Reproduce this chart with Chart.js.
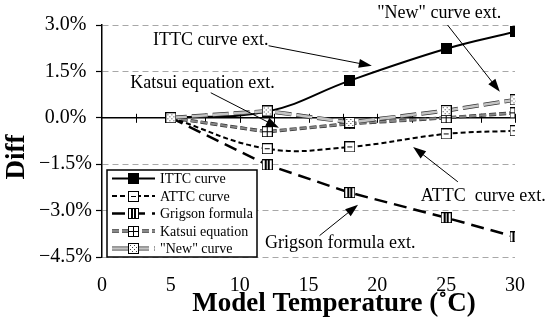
<!DOCTYPE html>
<html>
<head>
<meta charset="utf-8">
<script src="https://cdn.jsdelivr.net/npm/chart.js@4.4.0/dist/chart.umd.min.js"></script>
<style>
  html, body { margin: 0; padding: 0; background: #fff; }
  canvas { display: block; }
</style>
</head>
<body>
<canvas id="myChart" width="550" height="323"></canvas>
<script>
// model temperatures (°C) and differences (%)
const temps = [5, 12, 18, 25, 30];
const ittcValues = [0, 0.2, 1.2, 2.23, 2.78];
const attcValues = [0, -1.0, -0.94, -0.52, -0.42];
const grigsonValues = [0, -1.52, -2.42, -3.23, -3.85];
const katsuiValues = [0, -0.45, -0.19, 0.0, 0.16];
const newValues = [0, 0.22, -0.15, 0.23, 0.58];
const seriesNames = ['ITTC curve', 'ATTC curve', 'Grigson formula', 'Katsui equation', '"New" curve'];
const yLabelValues = [-4.5, -3, -1.5, 0, 1.5, 3];

const serif = "'Liberation Serif', 'DejaVu Serif', serif";
Chart.defaults.font.family = serif;
Chart.defaults.color = '#000';

// the annotation callouts, in data units
const notes = [
  { text: 'ITTC curve ext.', at: [7.9, 2.52], from: [12.1, 2.33], to: [19.6, 1.68] },
  { text: '"New" curve ext.', at: [24.5, 3.39], from: [25.1, 3.0], to: [28.9, 0.84] },
  { text: 'Katsui equation ext.', at: [7.3, 1.13], from: [7.9, 0.81], to: [12.85, -0.32] },
  { text: 'ATTC  curve ext.', at: [27.7, -2.55], from: [25.85, -2.07], to: [22.6, -0.94] },
  { text: 'Grigson formula ext.', at: [17.3, -4.04], from: [15.8, -3.81], to: [18.6, -2.81] }
];

function toPoints(values) {
  return values.map((v, i) => ({ x: temps[i], y: v }));
}

function makeMarker(kind) {
  const s = 11;
  const c = document.createElement('canvas');
  c.width = s; c.height = s;
  const g = c.getContext('2d');
  if (kind === 'filled') {
    g.fillStyle = '#000';
    g.fillRect(0, 0, s, s);
    return c;
  }
  g.fillStyle = '#fff';
  g.fillRect(0, 0, s, s);
  g.strokeStyle = '#000';
  g.lineWidth = 1;
  g.strokeRect(0.5, 0.5, s - 1, s - 1);
  g.fillStyle = '#000';
  if (kind === 'dash') {
    g.fillRect(3, 5, 5, 1);
  } else if (kind === 'bars') {
    g.fillRect(3, 1, 2, 9);
    g.fillRect(6, 1, 2, 9);
  } else if (kind === 'cross') {
    g.fillRect(1, 5, 9, 1);
    g.fillRect(5, 1, 1, 9);
  } else if (kind === 'dots') {
    g.fillStyle = '#444';
    for (let i = 0; i < 4; i++) {
      for (let j = 0; j < 4; j++) {
        if ((i + j) % 2 === 0) g.fillRect(2 + i * 2, 2 + j * 2, 1, 1);
      }
    }
  }
  return c;
}

const markers = {
  ittc: makeMarker('filled'),
  attc: makeMarker('dash'),
  grigson: makeMarker('bars'),
  katsui: makeMarker('cross'),
  newc: makeMarker('dots')
};

let data = {
  datasets: [
    {
      label: seriesNames[0], data: toPoints(ittcValues),
      borderColor: '#000', borderWidth: 2, tension: 0.4,
      pointStyle: markers.ittc, order: 1
    },
    {
      label: seriesNames[1], data: toPoints(attcValues),
      borderColor: '#000', borderWidth: 2, borderDash: [5, 3], tension: 0.4,
      pointStyle: markers.attc, order: 2
    },
    {
      label: seriesNames[2], data: toPoints(grigsonValues),
      borderColor: '#000', borderWidth: 2.5, borderDash: [13, 7], tension: 0,
      pointStyle: markers.grigson, order: 3
    },
    {
      label: seriesNames[3], data: toPoints(katsuiValues),
      borderColor: '#888', borderWidth: 2, borderDash: [7, 3], tension: 0,
      pointStyle: markers.katsui, order: 4, outlined: true
    },
    {
      label: seriesNames[4], data: toPoints(newValues),
      borderColor: '#c4c4c4', borderWidth: 2.6, borderDash: [16, 5], tension: 0,
      pointStyle: markers.newc, order: 0, outlined: true
    }
  ]
};

function isLabelled(v) {
  return yLabelValues.some(t => Math.abs(t - v) < 1e-6);
}

function fmtPct(v) {
  return (v < -1e-9 ? '\u2212' : '') + Math.abs(v).toFixed(1) + '%';
}

function arrow(ctx, x1, y1, x2, y2) {
  const a = Math.atan2(y2 - y1, x2 - x1);
  const len = 13, half = 4.5;
  ctx.beginPath();
  ctx.moveTo(x1, y1);
  ctx.lineTo(x2 - Math.cos(a) * len * 0.8, y2 - Math.sin(a) * len * 0.8);
  ctx.stroke();
  ctx.beginPath();
  ctx.moveTo(x2, y2);
  ctx.lineTo(x2 - Math.cos(a) * len - Math.sin(a) * half, y2 - Math.sin(a) * len + Math.cos(a) * half);
  ctx.lineTo(x2 - Math.cos(a) * len + Math.sin(a) * half, y2 - Math.sin(a) * len - Math.cos(a) * half);
  ctx.closePath();
  ctx.fill();
}

// black edge under the grey "double" lines
const outlinePlugin = {
  id: 'outline',
  beforeDatasetDraw(chart, args) {
    const ds = chart.data.datasets[args.index];
    if (!ds.outlined) return;
    const line = args.meta.dataset;
    if (!line || typeof line.path !== 'function') return;
    const ctx = chart.ctx;
    const a = chart.chartArea;
    ctx.save();
    ctx.beginPath();
    ctx.rect(a.left, a.top - 10, a.right - a.left + 10, a.bottom - a.top + 20);
    ctx.clip();
    ctx.beginPath();
    line.path(ctx);
    ctx.lineWidth = ds.borderWidth + 1.4;
    ctx.strokeStyle = '#333';
    ctx.setLineDash(ds.borderDash || []);
    ctx.stroke();
    ctx.restore();
  }
};

const decorPlugin = {
  id: 'decor',
  beforeDatasetsDraw(chart) {
    // zero line with small ticks every 2.5 °C
    const ctx = chart.ctx;
    const xs = chart.scales.x, ys = chart.scales.y;
    const y0 = ys.getPixelForValue(0);
    ctx.save();
    ctx.strokeStyle = '#000';
    ctx.lineWidth = 1.5;
    ctx.beginPath();
    ctx.moveTo(xs.left, y0);
    ctx.lineTo(xs.right, y0);
    ctx.stroke();
    ctx.lineWidth = 1;
    for (let t = 2.5; t <= 30.001; t += 2.5) {
      const px = Math.round(xs.getPixelForValue(t)) + 0.5;
      ctx.beginPath();
      ctx.moveTo(px, y0 - 4);
      ctx.lineTo(px, y0 + 5);
      ctx.stroke();
    }
    ctx.restore();
  },
  afterDraw(chart) {
    const ctx = chart.ctx;
    const xs = chart.scales.x, ys = chart.scales.y;
    const area = chart.chartArea;
    ctx.save();

    // callouts
    ctx.fillStyle = '#000';
    ctx.strokeStyle = '#000';
    ctx.lineWidth = 1;
    ctx.font = '18px ' + serif;
    ctx.textAlign = 'center';
    ctx.textBaseline = 'middle';
    notes.forEach(n => {
      ctx.fillText(n.text, xs.getPixelForValue(n.at[0]), ys.getPixelForValue(n.at[1]));
      arrow(ctx,
        xs.getPixelForValue(n.from[0]), ys.getPixelForValue(n.from[1]),
        xs.getPixelForValue(n.to[0]), ys.getPixelForValue(n.to[1]));
    });

    // legend box
    const bx = area.left + 5, bw = 150, bh = 87;
    const by = area.bottom - bh;
    ctx.fillStyle = '#fff';
    ctx.fillRect(bx, by, bw, bh);
    ctx.lineWidth = 1.5;
    ctx.strokeStyle = '#000';
    ctx.strokeRect(bx, by, bw, bh);
    ctx.font = '14px ' + serif;
    ctx.textAlign = 'left';
    chart.data.datasets.forEach((ds, i) => {
      const ry = by + 8.5 + i * 17.5;
      const lx1 = bx + 5, lx2 = bx + 48;
      if (ds.outlined) {
        ctx.beginPath();
        ctx.moveTo(lx1, ry); ctx.lineTo(lx2, ry);
        ctx.strokeStyle = '#333';
        ctx.lineWidth = ds.borderWidth + 1.4;
        ctx.setLineDash(ds.borderDash || []);
        ctx.stroke();
      }
      ctx.beginPath();
      ctx.moveTo(lx1, ry); ctx.lineTo(lx2, ry);
      ctx.strokeStyle = ds.borderColor;
      ctx.lineWidth = ds.borderWidth;
      ctx.setLineDash(ds.borderDash || []);
      ctx.stroke();
      ctx.setLineDash([]);
      const m = ds.pointStyle;
      ctx.drawImage(m, Math.round((lx1 + lx2) / 2 - m.width / 2), Math.round(ry - m.height / 2));
      ctx.fillStyle = '#000';
      ctx.fillText(ds.label, bx + 53, ry + 1);
    });

    // axis titles
    ctx.font = 'bold 27px ' + serif;
    ctx.textAlign = 'center';
    ctx.fillStyle = '#000';
    ctx.fillText('Model Temperature (\u02DAC)', 334, 304);
    ctx.save();
    ctx.translate(17, 157);
    ctx.rotate(-Math.PI / 2);
    ctx.fillText('Diff', 0, 0);
    ctx.restore();

    ctx.restore();
  }
};

let configuration = {
  type: 'line',
  data: data,
  options: {
    responsive: false,
    animation: false,
    devicePixelRatio: 1,
    layout: { padding: { left: 0, right: 35, top: 25, bottom: 0 } },
    plugins: {
      legend: { display: false },
      tooltip: { enabled: false }
    },
    elements: {
      point: { radius: 5.5 }
    },
    scales: {
      x: {
        type: 'linear',
        min: 0, max: 30,
        ticks: { stepSize: 5, color: '#000', padding: 17, font: { family: serif, size: 20 } },
        grid: { display: false, drawTicks: false },
        border: { display: false },
        afterFit(scale) { scale.height = 66; }
      },
      y: {
        min: -4.5, max: 3,
        ticks: {
          stepSize: 0.75,
          color: '#000',
          padding: 4,
          crossAlign: 'center',
          font: { family: serif, size: 20 },
          callback: v => isLabelled(v) ? fmtPct(v) : ''
        },
        grid: {
          color: c => {
            if (!c.tick) return 'rgba(0,0,0,0)';
            const v = c.tick.value;
            if (Math.abs(v) < 1e-6 || !isLabelled(v)) return 'rgba(0,0,0,0)';
            return '#a8a8a8';
          },
          lineWidth: 1,
          tickLength: 6,
          tickColor: '#000',
          tickWidth: 1.2
        },
        border: { color: '#000', width: 1.5, dash: [6, 4] },
        afterFit(scale) { scale.width = 102; }
      }
    }
  },
  plugins: [outlinePlugin, decorPlugin]
};

new Chart(document.getElementById('myChart'), configuration);
</script>
</body>
</html>
